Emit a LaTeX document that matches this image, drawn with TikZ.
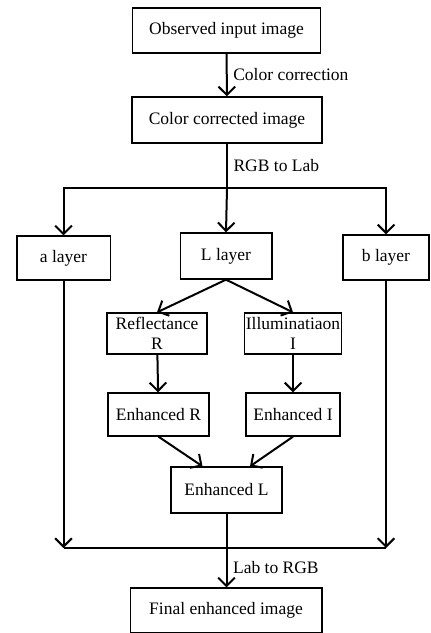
\documentclass[tikz,border=0pt]{standalone}
\usepackage{fontspec}
\setmainfont{Liberation Serif}
\usetikzlibrary{arrows.meta}

\begin{document}
\begin{tikzpicture}[x=0.6pt,y=-0.6pt,
    font=\fontsize{10.5}{12}\selectfont,
    box/.style={rectangle,draw,line width=0.8pt,inner sep=2pt},
    flow/.style={line width=1.2pt,-{Straight Barb[length=5pt,width=10pt,line width=1.2pt]}}]
            \useasboundingbox (0,0) rectangle (430,633);
            \draw (226.5,30.5) node[box,minimum width=113pt,minimum height=27pt] (obs) {Observed input image};
            \draw (227,120) node[box,minimum width=114pt,minimum height=27.6pt] (corr) {Color corrected image};
            \draw (63.5,258) node[box,minimum width=56pt,minimum height=26.4pt] (alay) {a layer};
            \draw (226,256) node[box,minimum width=55pt,minimum height=27.6pt] (llay) {L layer};
            \draw (386,257.5) node[box,minimum width=51.6pt,minimum height=27pt] (blay) {b layer};
            \draw (157,333.5) node[box,align=center,minimum width=60pt,minimum height=24.6pt,inner sep=1pt] (refl) {Reflectance\\R};
            \draw (293,333.5) node[box,align=center,minimum width=56.4pt,minimum height=24.6pt,inner sep=1pt] (illu) {Illuminatiaon\\I};
            \draw (158.5,414.5) node[box,minimum width=60.6pt,minimum height=25.8pt] (enhr) {Enhanced R};
            \draw (293,414.5) node[box,minimum width=56.4pt,minimum height=25.8pt] (enhi) {Enhanced I};
            \draw (226.5,490) node[box,minimum width=66.6pt,minimum height=27.6pt] (enhl) {Enhanced L};
            \draw (226,610.5) node[box,minimum width=115pt,minimum height=27pt] (fin) {Final enhanced image};

            \coordinate (split) at (225,188);
            \coordinate (merge) at (227,548);
            \coordinate (amerge) at (alay.south |- merge);
            \coordinate (bmerge) at (blay.south |- merge);

            \draw[flow] (obs)--(corr) node[right,pos=.5] {Color correction};
            \draw[line width=1.2pt] (corr.south)--(corr.south |- split) node[right,pos=.5] {RGB to Lab};
            \draw[flow] (corr.south |- split)--(llay.north);
            \draw[flow] (split) -| (alay.north);
            \draw[flow] (split) -| (blay.north);
            \draw[flow] (llay.south)--(refl.north);
            \draw[flow] (llay.south)--(illu.north);
            \draw[flow] (refl)--(enhr);
            \draw[flow] (illu)--(enhi);
            \draw[flow] (enhr.south)--([xshift=-14.4pt]enhl.north);
            \draw[flow] (enhi.south)--([xshift=14.1pt]enhl.north);
            \draw[flow] (alay.south)--(amerge);
            \draw[flow] (blay.south)--(bmerge);
            \draw[line width=1.2pt] (amerge)--(bmerge);
            \draw[flow] (enhl.south)--(enhl.south |- fin.north) node[right,pos=.73] {Lab to RGB};
\end{tikzpicture}
\end{document}
